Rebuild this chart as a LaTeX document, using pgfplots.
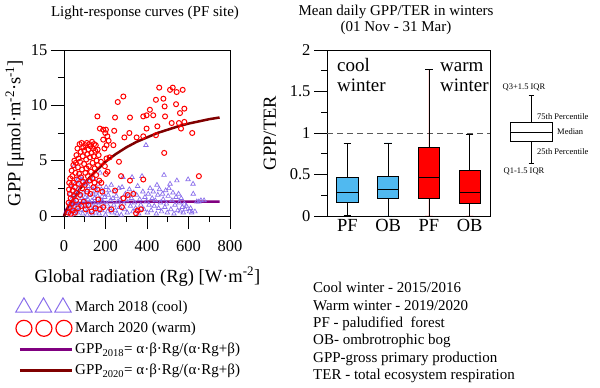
\documentclass[border=0pt]{standalone}
\usepackage{pgfplots}
\pgfplotsset{compat=1.18}
\usepgfplotslibrary{statistics}
\usepackage{fontspec}
\setmainfont{Liberation Serif}

\definecolor{triC}{RGB}{138,110,235}
\definecolor{circC}{RGB}{255,0,0}
\definecolor{fitA}{RGB}{128,0,128}
\definecolor{fitB}{RGB}{128,0,0}
\definecolor{coolC}{RGB}{80,185,240}
\definecolor{warmC}{RGB}{255,0,0}

\newcommand\sz[2]{\fontsize{#1bp}{#2bp}\selectfont}

\pgfplotsset{
  frame/.style={
    scale only axis,
    axis line style={black, line width=0.8bp},
    tick style={black, line width=0.8bp},
    tick align=outside, tick pos=left,
    major tick length=13bp, minor tick length=6bp,
    ticklabel style={font=\sz{16.5}{18}},
    label style={font=\sz{18.5}{21}},
    /pgf/number format/assume math mode=true,
  },
  boxplot/draw direction=y,
}

\begin{document}
\begin{tikzpicture}
\useasboundingbox (0,0) rectangle (600bp,388bp);

% titles
\node[font=\sz{15}{17}] at (145bp,375bp) {Light-response curves (PF site)};
\node[font=\sz{15}{16.5}, align=center] at (396bp,368bp) {Mean daily GPP/TER in winters\\(01 Nov - 31 Mar)};

% ---------------- left: light response ----------------
\begin{axis}[frame,
  at={(64bp,172bp)}, anchor=south west, width=166bp, height=166bp,
  xmin=0, xmax=800, ymin=0, ymax=15,
  xtick={0,200,...,800}, ytick={0,5,10,15},
  minor x tick num=1, minor y tick num=1,
  xticklabel style={yshift=-8bp},
  clip=false,
  xlabel={Global radiation (Rg) [W·m\textsuperscript{-2}]},
  ylabel={GPP [μmol·m\textsuperscript{-2}·s\textsuperscript{-1}]},
  xlabel style={at={(axis description cs:0.503,-0.365)}, anchor=center},
  ylabel style={at={(axis description cs:-0.295,0.5)}, anchor=center},
  legend style={at={(-0.31,-0.48)}, anchor=north west, draw=none, fill=none,
    font=\sz{15}{17}, row sep=5bp, cells={anchor=west}},
]
% March 2018 (cool)
\addplot[only marks, mark=triangle, mark size=2.6bp, triC, line width=0.7bp, forget plot] coordinates {
(22,0.3)(25,1.1)(28,0.6)(30,2.0)(33,0.1)(35,1.5)(38,0.9)(40,2.6)(42,0.4)(45,1.8)
(48,4.5)(50,1.2)(52,0.2)(55,2.2)(57,0.7)(60,3.1)(62,1.4)(65,0.3)(67,2.4)(70,1.0)
(72,3.5)(75,0.5)(77,1.9)(80,2.8)(82,0.8)(85,1.6)(87,3.3)(90,0.2)(92,2.1)(95,1.3)
(97,2.9)(100,0.6)(102,1.7)(105,3.0)(107,0.9)(110,2.3)(112,0.1)(115,1.5)(117,2.7)(120,0.4)
(122,1.9)(125,3.2)(127,1.1)(130,0.7)(132,2.5)(135,1.4)(137,0.2)(140,2.0)(142,3.4)(145,0.8)
(147,1.6)(150,2.6)(152,0.3)(155,1.2)(157,2.2)(160,0.6)(162,1.8)(165,2.9)(167,1.0)(170,0.2)
(174,3.9)(176,1.5)(180,2.4)(183,0.5)(186,1.3)(190,2.0)(193,0.9)(196,1.7)(200,0.1)(203,2.6)
(206,1.1)(210,0.4)(213,1.9)(216,2.3)(220,0.7)(224,1.4)(228,2.8)(232,0.3)(236,1.6)(240,1.0)
(244,2.2)(248,0.5)(252,1.8)(256,0.2)(260,1.3)(264,2.5)(268,0.8)(272,1.5)(276,0.1)(280,2.6)
(284,3.5)(288,1.1)(292,0.6)(296,2.0)(300,1.4)(305,0.3)(310,1.8)(315,2.4)(320,0.9)(325,1.6)
(328,3.5)(332,0.4)(336,2.1)(340,1.2)(345,0.7)(350,1.9)(355,2.7)(360,0.2)(365,1.5)(370,1.0)
(376,3.6)(380,2.2)(385,0.6)(390,1.7)(395,6.4)(398,1.3)(402,0.3)(406,2.0)(410,1.0)(415,2.5)
(420,0.5)(425,1.6)(430,2.2)(435,0.9)(440,1.4)(445,0.2)(448,2.8)(452,1.9)(456,0.7)(460,2.4)
(465,1.2)(470,0.4)(475,2.0)(478,1.5)(482,3.7)(486,0.8)(490,2.3)(494,1.1)(498,0.3)(502,1.8)
(506,2.5)(511,2.9)(515,0.6)(520,1.4)(525,2.1)(530,0.2)(535,1.0)(540,1.7)(544,3.2)(548,0.5)
(552,2.0)(556,1.2)(560,0.4)(565,1.6)(570,0.8)(575,0.3)(580,1.1)(585,0.6)(590,0.9)(598,3.3)
(605,0.4)(610,0.7)(615,0.3)(622,2.9)(623,2.0)(631,0.4)(640,1.3)(650,1.3)(660,1.4)(675,1.4)
};
% March 2020 (warm)
\addplot[only marks, mark=o, mark size=2.5bp, circC, line width=1bp, forget plot] coordinates {
(20,0.3)(22,1.2)(24,2.4)(25,3.0)(27,0.8)(28,2.0)(30,3.4)(32,1.6)(33,0.2)(35,2.8)
(37,4.1)(38,1.1)(40,3.6)(42,2.3)(43,0.5)(45,4.6)(47,3.0)(48,1.8)(50,5.0)(52,2.6)
(53,0.3)(55,3.9)(57,4.8)(58,1.4)(60,5.5)(62,3.3)(63,2.1)(65,6.1)(67,4.4)(68,0.7)
(70,5.2)(72,2.9)(73,3.8)(75,6.5)(77,4.9)(78,1.9)(80,5.8)(82,3.5)(83,0.9)(85,6.6)
(87,4.2)(88,2.5)(90,5.4)(92,3.1)(93,6.2)(95,1.3)(97,4.7)(98,5.9)(100,2.8)(102,6.4)
(103,3.9)(105,0.6)(107,5.1)(108,4.3)(110,6.6)(112,2.2)(113,5.6)(115,3.6)(117,6.0)(118,1.0)
(120,4.5)(122,6.5)(123,3.2)(125,5.3)(127,2.0)(128,6.3)(130,4.0)(132,5.7)(133,0.4)(135,6.7)
(137,3.4)(138,4.8)(140,6.1)(142,2.6)(143,5.4)(145,6.5)(147,3.0)(148,4.3)(150,5.9)(152,0.7)
(153,6.4)(155,3.7)(157,5.0)(160,2.4)(162,6.0)(163,4.6)(165,1.5)(167,5.5)(170,3.2)(161,9.0)
(173,7.9)(189,7.8)(199,7.5)(209,7.2)(215,6.8)(189,6.9)(205,6.4)(202,7.8)(180,3.0)(185,2.2)
(210,4.0)(220,5.3)(178,4.9)(195,6.1)(205,5.2)(197,4.5)(202,3.8)(173,0.6)(189,0.8)(228,0.6)
(238,6.4)(242,7.7)(246,8.9)(246,2.3)(259,10.3)(265,4.9)(275,3.6)(279,0.8)(286,10.8)(286,1.6)
(291,7.1)(307,1.9)(315,7.5)(318,8.9)(318,3.2)(334,2.0)(347,0.25)(350,7.1)(355,0.5)(371,0.6)
(382,9.0)(382,7.2)(382,3.3)(398,9.1)(398,7.9)(414,9.6)(430,9.1)(443,10.5)(443,7.3)(450,8.1)
(459,11.6)(479,10.6)(483,5.7)(485,9.9)(487,9.0)(511,11.4)(519,8.4)(524,11.6)(540,10.1)(543,11.2)
(554,8.4)(559,9.3)(564,7.9)(572,11.4)(580,9.7)(580,8.5)(618,7.5)(650,3.6)
};
% GPP_2018 fit
\addplot[fitA, line width=2.5bp, forget plot] coordinates {
(0,0)(10,0.55)(20,0.8)(30,0.95)(50,1.08)(75,1.15)(100,1.19)(150,1.23)(200,1.25)
(300,1.27)(400,1.29)(500,1.30)(600,1.30)(750,1.31)
};
% GPP_2020 fit
\addplot[fitB, line width=2.5bp, forget plot] coordinates {
(0,0)(25,0.9)(50,1.7)(75,2.4)(100,3.0)(150,4.0)(200,4.9)(250,5.6)(300,6.2)(350,6.7)
(400,7.1)(450,7.5)(500,7.8)(550,8.1)(600,8.35)(650,8.55)(700,8.75)(750,8.9)
};
\addlegendimage{legend image code/.code={\draw[triC, line width=1bp, mark size=9.5bp, mark=triangle, only marks] plot coordinates {(0bp,0bp) (19.5bp,0bp) (39bp,0bp)};}}
\addlegendentry{March 2018 (cool)}
\addlegendimage{legend image code/.code={\draw[circC, line width=1.2bp, mark size=8bp, mark=o, only marks] plot coordinates {(0bp,0bp) (20bp,0bp) (40bp,0bp)};}}
\addlegendentry{March 2020 (warm)}
\addlegendimage{legend image code/.code={\draw[fitA, line width=2.5bp] (-4bp,0bp) -- (48bp,0bp);}}
\addlegendentry{GPP\textsubscript{2018}= α·β·Rg/(α·Rg+β)}
\addlegendimage{legend image code/.code={\draw[fitB, line width=2.5bp] (-4bp,0bp) -- (48bp,0bp);}}
\addlegendentry{GPP\textsubscript{2020}= α·β·Rg/(α·Rg+β)}
\end{axis}

% ---------------- right: GPP/TER boxplots ----------------
\begin{axis}[frame,
  at={(327bp,172bp)}, anchor=south west, width=163bp, height=166bp,
  xmin=0.5, xmax=4.5, ymin=0, ymax=2,
  xtick={1,2,3,4}, xticklabels={PF,OB,PF,OB},
  xtick align=inside, xtick style={draw=none},
  xticklabel style={font=\sz{18.5}{20}},
  ytick={0,0.5,1,1.5,2}, minor y tick num=1,
  ylabel={GPP/TER},
  ylabel style={at={(axis description cs:-0.35,0.5)}, anchor=center},
]
\addplot[dash pattern=on 6bp off 4bp, black!65, line width=0.9bp] coordinates {(0.5,1) (4.5,1)};
\addplot[boxplot prepared={draw position=1, lower whisker=0.01, lower quartile=0.16,
  median=0.29, upper quartile=0.46, upper whisker=0.87, box extend=0.52, whisker extend=0.18},
  fill=coolC, draw=black, line width=0.7bp] coordinates {};
\addplot[boxplot prepared={draw position=2, lower whisker=0.0, lower quartile=0.21,
  median=0.32, upper quartile=0.48, upper whisker=0.88, box extend=0.52, whisker extend=0.18},
  fill=coolC, draw=black, line width=0.7bp] coordinates {};
\addplot[boxplot prepared={draw position=3, lower whisker=0.0, lower quartile=0.21,
  median=0.46, upper quartile=0.83, upper whisker=1.77, box extend=0.52, whisker extend=0.18},
  fill=warmC, draw=black, line width=0.7bp] coordinates {};
\addplot[boxplot prepared={draw position=4, lower whisker=0.0, lower quartile=0.15,
  median=0.28, upper quartile=0.55, upper whisker=0.98, box extend=0.52, whisker extend=0.18},
  fill=warmC, draw=black, line width=0.7bp] coordinates {};
\end{axis}

\node[font=\sz{19}{21}, anchor=base west, inner sep=0] at (337bp,316bp) {cool};
\node[font=\sz{19}{21}, anchor=base west, inner sep=0] at (337bp,296bp) {winter};
\node[font=\sz{19}{21}, anchor=base west, inner sep=0] at (440bp,316bp) {warm};
\node[font=\sz{19}{21}, anchor=base west, inner sep=0] at (440bp,296bp) {winter};

% ---------------- boxplot key ----------------
\begin{axis}[at={(500bp,213bp)}, anchor=south west, scale only axis,
  width=60bp, height=85bp, xmin=0, xmax=60, ymin=0, ymax=85,
  hide axis, clip=false]
\addplot[boxplot prepared={draw position=31, lower whisker=12, lower quartile=34,
  median=43, upper quartile=53, upper whisker=80, box extend=42, whisker extend=5},
  fill=white, draw=black, line width=0.6bp] coordinates {};
\node[font=\sz{8.5}{10}] at (axis cs:24,88) {Q3+1.5 IQR};
\node[font=\sz{8.5}{10}, anchor=west, inner sep=0] at (axis cs:37,58) {75th Percentile};
\node[font=\sz{8.5}{10}, anchor=west, inner sep=0] at (axis cs:57,43) {Median};
\node[font=\sz{8.5}{10}, anchor=west, inner sep=0] at (axis cs:37,23) {25th Percentile};
\node[font=\sz{8.5}{10}] at (axis cs:24,4) {Q1-1.5 IQR};
\end{axis}

% ---------------- notes ----------------
\node[font=\sz{15}{17.4}, align=left, anchor=north west, inner sep=0] at (313bp,106bp) {%
Cool winter - 2015/2016\\
Warm winter - 2019/2020\\
PF - paludified\ \ forest\\
OB- ombrotrophic bog\\
GPP-gross primary production\\
TER - total ecosystem respiration};
\end{tikzpicture}
\end{document}
